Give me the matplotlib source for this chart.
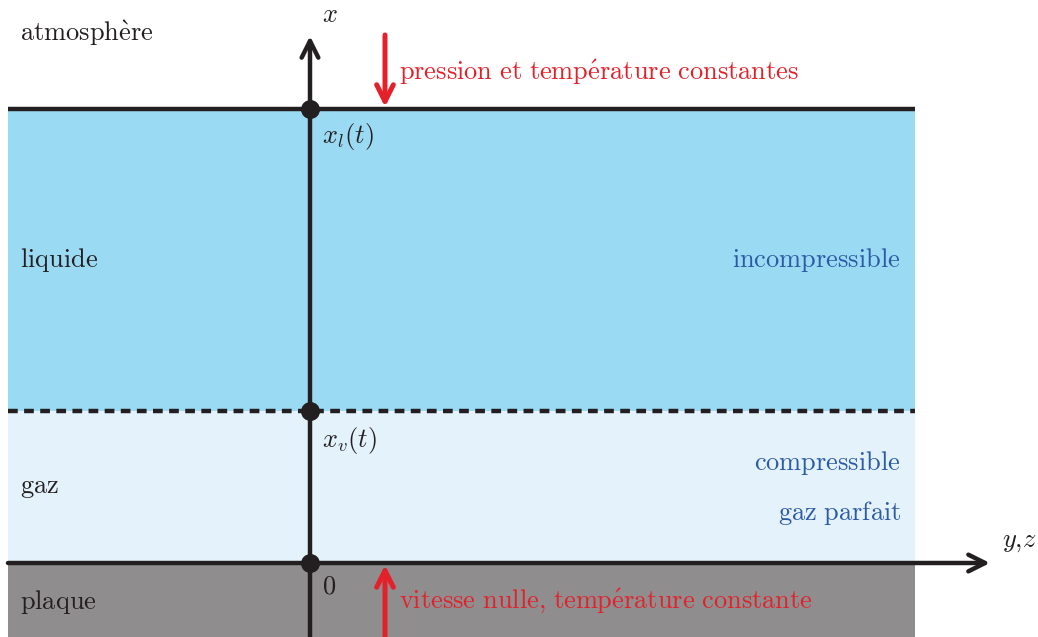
import matplotlib
matplotlib.use("Agg")
import matplotlib.pyplot as plt

plt.rcParams['mathtext.fontset'] = 'cm'
plt.rcParams['lines.scale_dashes'] = False

# layer boundaries (pixel rows of the sketch, top = 0)
y_top = 109      # liquid / atmosphere
y_iface = 411    # liquid / gas (dashed)
y_wall = 563     # gas / plate
y_bottom = 637
x_left = 8
x_right = 915
x_axis = 310
x_red = 385

layers = [
    (y_top, y_iface, '#9bdaf3'),
    (y_iface, y_wall, '#e4f3fb'),
    (y_wall, y_bottom, '#8f8d8e'),
]
dots_y = [y_top, y_iface, y_wall]

left_labels = [
    (33, r'$\mathrm{atmosph\`ere}$'),
    (260, r'$\mathrm{liquide}$'),
    (487, r'$\mathrm{gaz}$'),
    (602, r'$\mathrm{plaque}$'),
]
right_labels = [
    (260, r'$\mathrm{incompressible}$'),
    (463, r'$\mathrm{compressible}$'),
    (513, r'$\mathrm{gaz\ parfait}$'),
]
axis_labels = [
    (322, 137, r'$x_l(t)$'),
    (322, 440, r'$x_v(t)$'),
    (322, 587, r'$0$'),
    (322, 15, r'$x$'),
    (1002, 541, r'$y{,}z$'),
]
red_labels = [
    (72, r'$\mathrm{pression\ et\ temp\'erature\ constantes}$'),
    (601, r'$\mathrm{vitesse\ nulle{,}\ temp\'erature\ constante}$'),
]

dark = '#231f20'
red = '#e4202a'
blue = '#2c5aa6'
fs = 19

fig = plt.figure(figsize=(10.38, 6.37), dpi=100)
ax = fig.add_axes([0, 0, 1, 1])
ax.set_xlim(0, 1038)
ax.set_ylim(637, 0)
ax.axis('off')

for y0, y1, c in layers:
    ax.fill_between([x_left, x_right], y0, y1, color=c, lw=0)

ax.plot([x_left, x_right], [y_top, y_top], color=dark, lw=3.2, solid_capstyle='butt')
ax.plot([x_left, x_right], [y_iface, y_iface], color=dark, lw=3.2,
        linestyle=(0, (7.0, 4.6)))

# axes with open arrow heads
arr = dict(arrowstyle='->', lw=3.2, color=dark, mutation_scale=30,
           shrinkA=0, shrinkB=0)
ax.annotate('', xy=(990, y_wall), xytext=(x_left, y_wall), arrowprops=arr)
ax.annotate('', xy=(x_axis, 36), xytext=(x_axis, y_bottom + 5), arrowprops=arr)

ax.scatter([x_axis] * len(dots_y), dots_y, s=160, color=dark, zorder=5)

rarr = dict(arr, color=red, lw=3.6)
ax.annotate('', xy=(x_red, y_top - 2), xytext=(x_red, 35), arrowprops=rarr)
ax.annotate('', xy=(x_red, y_wall + 2), xytext=(x_red, y_bottom + 5), arrowprops=rarr)

for y, s in left_labels:
    ax.text(20, y, s, fontsize=fs, color=dark, va='center', ha='left')
for y, s in right_labels:
    ax.text(901, y, s, fontsize=fs, color=blue, va='center', ha='right')
for x, y, s in axis_labels:
    ax.text(x, y, s, fontsize=fs, color=dark, va='center', ha='left')
for y, s in red_labels:
    ax.text(399, y, s, fontsize=fs, color=red, va='center', ha='left')

fig.savefig('out.png', dpi=100)
